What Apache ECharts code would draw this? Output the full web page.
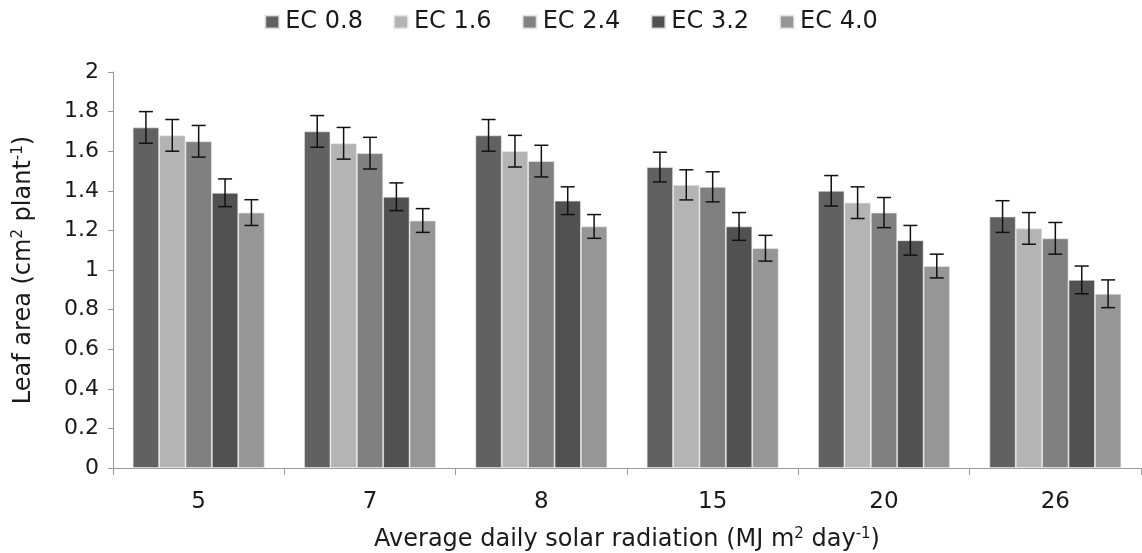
<!DOCTYPE html>
<html>
<head>
<meta charset="utf-8">
<script src="https://cdn.jsdelivr.net/npm/echarts@6/dist/echarts.min.js"></script>
<style>html,body{margin:0;padding:0;background:#fff;}#c{width:1142px;height:553px;}</style>
</head>
<body>
<div id="c"></div>
<script>
const categories = ['5', '7', '8', '15', '20', '26'];
const seriesNames = ['EC 0.8', 'EC 1.6', 'EC 2.4', 'EC 3.2', 'EC 4.0'];
const ec08 = [1.72, 1.70, 1.68, 1.52, 1.40, 1.27];
const ec16 = [1.68, 1.64, 1.60, 1.43, 1.34, 1.21];
const ec24 = [1.65, 1.59, 1.55, 1.42, 1.29, 1.16];
const ec32 = [1.39, 1.37, 1.35, 1.22, 1.15, 0.95];
const ec40 = [1.29, 1.25, 1.22, 1.11, 1.02, 0.88];
const err08 = [0.08, 0.08, 0.08, 0.075, 0.077, 0.08];
const err16 = [0.08, 0.08, 0.08, 0.076, 0.08, 0.08];
const err24 = [0.08, 0.08, 0.08, 0.076, 0.076, 0.08];
const err32 = [0.07, 0.07, 0.07, 0.07, 0.075, 0.07];
const err40 = [0.065, 0.06, 0.06, 0.065, 0.06, 0.07];
const yTicks = ['0', '0.2', '0.4', '0.6', '0.8', '1', '1.2', '1.4', '1.6', '1.8', '2'];

const values = [ec08, ec16, ec24, ec32, ec40];
const errors = [err08, err16, err24, err32, err40];
const colors = ['#616161', '#b4b4b4', '#808080', '#515151', '#969696'];
const CAT_GAP = 0.23;
const font = 'DejaVu Sans, sans-serif';
const txt = '#1a1a1a';

const chart = echarts.init(document.getElementById('c'), null, {renderer: 'canvas'});

const series = [];
seriesNames.forEach((name, k) => {
  series.push({
    name: name,
    type: 'bar',
    data: values[k],
    barGap: '0%',
    barCategoryGap: (CAT_GAP * 100) + '%',
    itemStyle: {color: colors[k], borderColor: 'rgba(235,235,235,0.8)', borderWidth: 0.8},
    emphasis: {disabled: true}
  });
});
seriesNames.forEach((name, k) => {
  series.push({
    name: name + ' err',
    type: 'custom',
    z: 10,
    silent: true,
    data: categories.map((c, i) => [i, values[k][i], errors[k][i]]),
    renderItem: function (params, api) {
      const xi = api.value(0), v = api.value(1), e = api.value(2);
      const c = api.coord([xi, v]);
      const bandW = api.size([1, 0])[0];
      const groupW = bandW * (1 - CAT_GAP);
      const bw = groupW / seriesNames.length;
      const x = c[0] - groupW / 2 + bw * (k + 0.5);
      const yt = api.coord([xi, v + e])[1];
      const yb = api.coord([xi, v - e])[1];
      const cap = 7;
      const st = {stroke: '#111', lineWidth: 1.5};
      return {
        type: 'group',
        children: [
          {type: 'line', shape: {x1: x, y1: yt, x2: x, y2: yb}, style: st},
          {type: 'line', shape: {x1: x - cap, y1: yt, x2: x + cap, y2: yt}, style: st},
          {type: 'line', shape: {x1: x - cap, y1: yb, x2: x + cap, y2: yb}, style: st}
        ]
      };
    }
  });
});

const nameRich = {
  a: {fontSize: 24, color: txt, fontFamily: font, lineHeight: 26},
  s: {fontSize: 15, color: txt, fontFamily: font, verticalAlign: 'top', lineHeight: 18}
};

chart.setOption({
  animation: false,
  backgroundColor: '#fff',
  textStyle: {fontFamily: font},
  legend: {
    data: seriesNames,
    top: 5,
    left: 'center',
    icon: 'rect',
    itemWidth: 14,
    itemHeight: 13,
    itemGap: 30,
    textStyle: {fontSize: 24, color: txt, fontFamily: font, padding: [0, 0, 0, 1]}
  },
  grid: {left: 113, right: 1, top: 72, bottom: 85, containLabel: false, outerBoundsMode: 'none'},
  xAxis: {
    type: 'category',
    data: categories,
    axisLine: {lineStyle: {color: '#9a9a9a', width: 1}},
    axisTick: {show: true, length: 7, lineStyle: {color: '#9a9a9a'}},
    axisLabel: {fontSize: 23, color: txt, margin: 23, fontFamily: font},
    name: '{a|Average daily solar radiation (MJ m}{s|2}{a| day}{s|-1}{a|)}',
    nameLocation: 'middle',
    nameGap: 59,
    nameTextStyle: {rich: nameRich}
  },
  yAxis: {
    type: 'value',
    min: 0,
    max: 2,
    interval: 0.2,
    splitLine: {show: false},
    axisLine: {show: true, lineStyle: {color: '#9a9a9a', width: 1}},
    axisTick: {show: true, length: 5, lineStyle: {color: '#9a9a9a'}},
    axisLabel: {
      fontSize: 22, color: txt, margin: 14, fontFamily: font,
      formatter: function (v) { return yTicks[Math.round(v / 0.2)]; }
    },
    name: '{a|Leaf area (cm}{s|2}{a| plant}{s|-1}{a|)}',
    nameLocation: 'middle',
    nameRotate: 90,
    nameGap: 76,
    nameTextStyle: {rich: nameRich}
  },
  series: series
});
</script>
</body>
</html>
